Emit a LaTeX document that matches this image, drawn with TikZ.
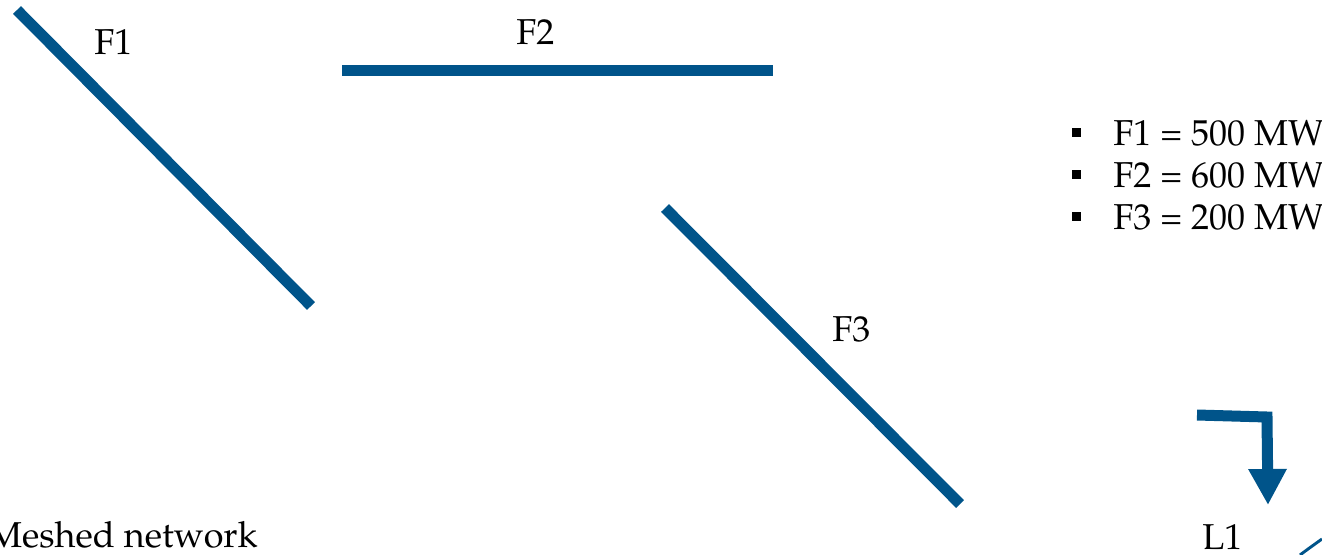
\documentclass[tikz,border=0pt]{standalone}
\usepackage[T1]{fontenc}
\usepackage{mathpazo}
\usetikzlibrary{arrows.meta}
\definecolor{flowblue}{RGB}{0,84,138}
\tikzset{
  flow/.style={draw=flowblue, line width=8.25pt},
  lbl/.style={inner sep=0pt, font=\fontsize{27}{32}\selectfont, text=black},
  bulletsq/.style={fill=black, minimum size=6.75pt, inner sep=0pt},
}
\begin{document}
\begin{tikzpicture}[x=0.75pt, y=-0.75pt]
\useasboundingbox (0,0) rectangle (1322,554);
% lines
\coordinate (f1a) at (17,10);
\coordinate (f1b) at (311,306);
\coordinate (f2a) at (342,70);
\coordinate (f2b) at (773,70);
\coordinate (f3a) at (665,208);
\coordinate (f3b) at (960,504);
\draw[flow] (f1a) -- (f1b);
\draw[flow] (f2a) -- (f2b);
\draw[flow] (f3a) -- (f3b);
% labels
\node[lbl, anchor=base west] (F1) at (94,54) {F1};
\node[lbl, anchor=base west] (F2) at (516,44) {F2};
\node[lbl, anchor=base west] (F3) at (832,341) {F3};
\node[lbl, anchor=base west] (L1) at (1202,549) {L1};
\node[lbl, anchor=base east] (mesh) at (258,547) {Meshed network};
% bullet list
\foreach \i/\t/\yb in {1/F1 = 500 MW/145, 2/F2 = 600 MW/187, 3/F3 = 200 MW/229} {
  \node[bulletsq] (b\i) at (1076.5,\yb-12.5) {};
  \node[lbl, anchor=base west] (t\i) at (1113,\yb) {\t};
}
% L1 arrow
\coordinate (a0) at (1197,415);
\coordinate (a1) at (1267,417);
\coordinate (a2) at (1268,505);
\draw[draw=flowblue, line width=8.25pt, -{Triangle[width=27pt, length=27pt]}]
  (a0) -- (a1) -- (a2);
% arc piece at the bottom right
\coordinate (c0) at (1300,555);
\coordinate (c1) at (1322,539);
\draw[draw=flowblue, line width=2.2pt] (c0) .. controls (1308,549) .. (c1);
\end{tikzpicture}
\end{document}
